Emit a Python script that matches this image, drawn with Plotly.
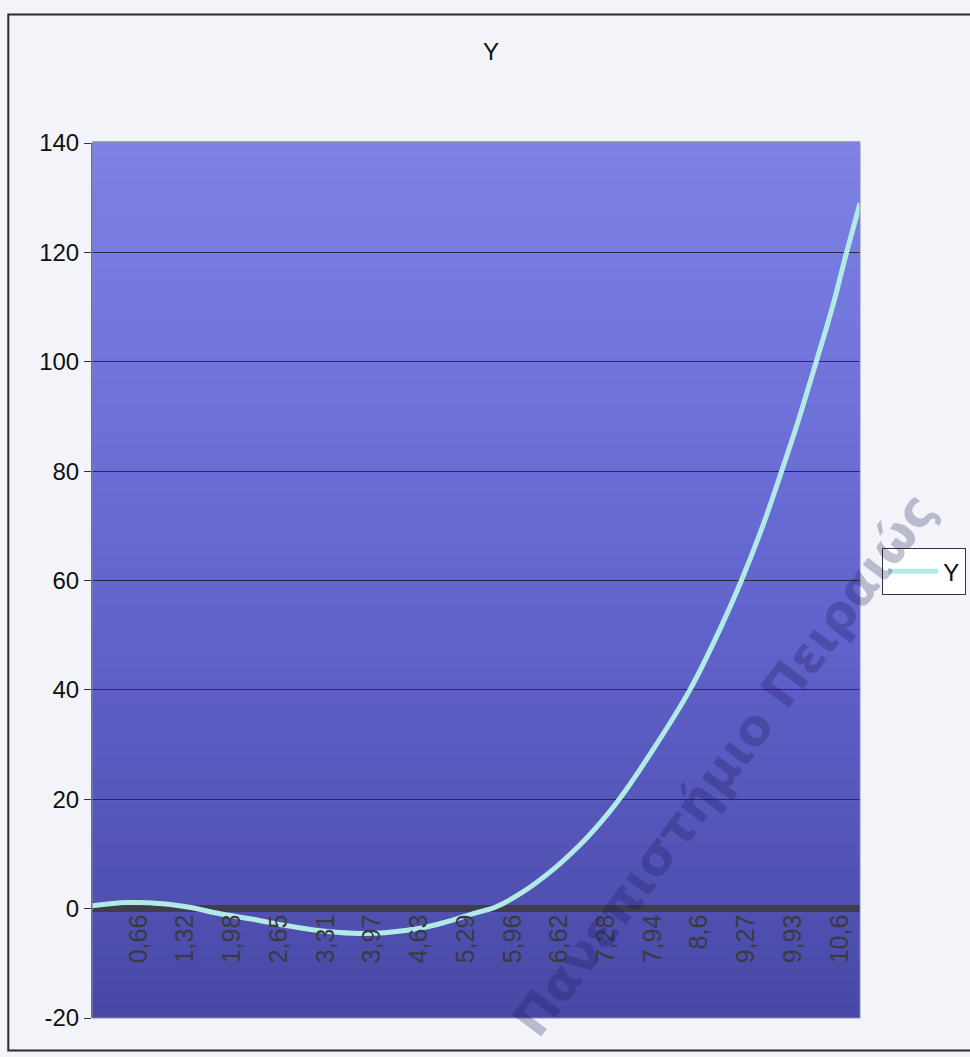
import plotly.graph_objects as go

# ---- data ----
x_vals = [0.0, 0.5, 1.0, 1.4, 1.8, 2.3, 2.75, 3.2, 3.7, 4.15, 4.65, 5.0, 5.4, 5.72,
          6.1, 6.5, 6.9, 7.2, 7.47, 7.95, 8.47, 8.9, 9.2, 9.5, 9.77, 10.0, 10.26,
          10.5, 10.69, 10.88]
y_vals = [0.5, 1.1, 0.9, 0.2, -0.9, -2.0, -3.1, -4.0, -4.5, -4.4, -3.6, -2.5, -0.9,
          0.3, 3.0, 6.8, 11.5, 15.7, 20.0, 29.1, 40.0, 51.2, 60.0, 69.9, 80.0, 89.0,
          100.0, 110.5, 120.0, 129.0]
x_tick_vals = [0.66, 1.32, 1.98, 2.65, 3.31, 3.97, 4.63, 5.29, 5.96, 6.62, 7.28,
               7.94, 8.6, 9.27, 9.93, 10.6]
x_tick_text = ["0,66", "1,32", "1,98", "2,65", "3,31", "3,97", "4,63", "5,29",
               "5,96", "6,62", "7,28", "7,94", "8,6", "9,27", "9,93", "10,6"]
y_tick_vals = [-20, 0, 20, 40, 60, 80, 100, 120, 140]
y_tick_text = ["-20", "0", "20", "40", "60", "80", "100", "120", "140"]
series_name = "Y"
chart_title = "Y"
watermark_text = "Πανεπιστήμιο Πειραιώς"

FONT = "Liberation Sans, Arial, sans-serif"

fig = go.Figure()
fig.add_trace(go.Scatter(
    x=x_vals, y=y_vals, mode="lines", name=series_name,
    line=dict(color="#b2ebe6", width=5, shape="spline", smoothing=1.0),
))

# gradient plot background (bottom darker blue -> top light periwinkle)
def lerp(c1, c2, t):
    return tuple(round(a + (b - a) * t) for a, b in zip(c1, c2))

stops = [(0.0, (72, 73, 166)), (0.5, (100, 102, 208)), (1.0, (126, 130, 228))]
shapes = []
N = 70
for i in range(N):
    f0, f1 = i / N, (i + 1) / N
    fm = (f0 + f1) / 2
    for (a, ca), (b, cb) in zip(stops[:-1], stops[1:]):
        if a <= fm <= b:
            col = lerp(ca, cb, (fm - a) / (b - a))
            break
    shapes.append(dict(type="rect", xref="paper", yref="paper", x0=0, x1=1,
                       y0=f0, y1=f1 + 0.002, line=dict(width=0),
                       fillcolor="rgb(%d,%d,%d)" % col, layer="below"))
# plot area border
shapes.append(dict(type="rect", xref="paper", yref="paper", x0=0, x1=1, y0=0, y1=1,
                   line=dict(color="#8a88a8", width=1), layer="above"))
# chart outer border
shapes.append(dict(type="rect", xref="paper", yref="paper", x0=-0.109, x1=1.2,
                   y0=-0.037, y1=1.147, line=dict(color="#2a2a2a", width=2),
                   layer="below"))

fig.update_layout(
    width=970, height=1057,
    margin=dict(l=92, r=110, t=143, b=39, autoexpand=False),
    paper_bgcolor="#f3f4fa",
    plot_bgcolor="#6466d0",
    font=dict(family=FONT, color="#111111"),
    title=dict(text=chart_title, x=491 / 970, xanchor="center", y=1 - 52 / 1057,
               yanchor="middle", font=dict(size=24, family=FONT, color="#111111")),
    shapes=shapes,
    showlegend=True,
    legend=dict(x=1.029, xanchor="left", y=0.51, yanchor="middle",
                bgcolor="#ffffff", bordercolor="#333333", borderwidth=1,
                itemwidth=50,
                font=dict(size=24, family=FONT, color="#111111")),
    xaxis=dict(range=[0, 10.88], tickmode="array", tickvals=x_tick_vals,
               ticktext=x_tick_text, tickangle=-90, anchor="free", position=0.125,
               showgrid=False, zeroline=False, showline=False, ticks="",
               tickfont=dict(size=25, family=FONT, color="#3a3a3e")),
    yaxis=dict(range=[-20, 140], tickmode="array", tickvals=y_tick_vals,
               ticktext=y_tick_text,
               showgrid=True, gridcolor="#2b2b3a", gridwidth=1,
               zeroline=True, zerolinecolor="#3d3d4c", zerolinewidth=7,
               showline=True, linecolor="#555566", linewidth=1,
               ticks="outside", ticklen=7, tickcolor="#333333",
               tickfont=dict(size=24, family=FONT, color="#111111")),
    annotations=[dict(
        text="<b>" + watermark_text + "</b>", xref="paper", yref="paper",
        x=0.824, y=0.289,
        xanchor="center", yanchor="middle", textangle=-53, showarrow=False,
        font=dict(size=50, family="DejaVu Sans, Noto Sans, sans-serif",
                  color="rgba(20,20,80,0.26)"),
    )],
)

fig.write_html("out.html", config={"displayModeBar": False},
               post_script="document.body.style.margin='0';")
